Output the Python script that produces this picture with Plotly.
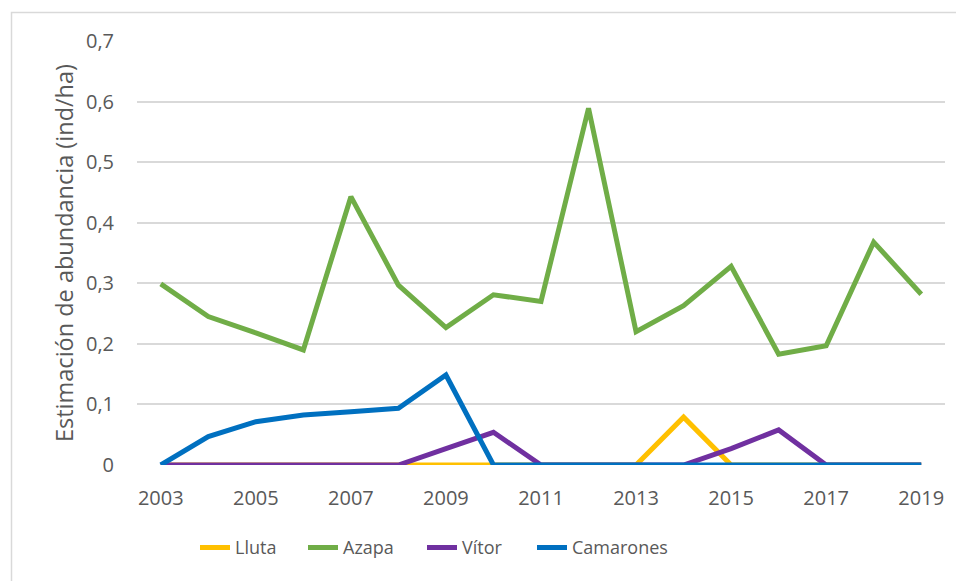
import plotly.graph_objects as go

years = list(range(2003, 2020))
lluta = [0, 0, 0, 0, 0, 0, 0, 0, 0, 0, 0, 0.079, 0, 0, 0, 0, 0]
azapa = [0.299, 0.245, 0.218, 0.19, 0.443, 0.297, 0.227, 0.281, 0.27, 0.589,
         0.22, 0.263, 0.328, 0.183, 0.197, 0.368, 0.282]
vitor = [0, 0, 0, 0, 0, 0, 0.027, 0.054, 0, 0, 0, 0, 0.027, 0.058, 0, 0, 0]
camarones = [0, 0.047, 0.0715, 0.0826, 0.088, 0.0936, 0.1486, 0, 0, 0, 0, 0, 0, 0, 0, 0, 0]

series_names = ["Lluta", "Azapa", "Vítor", "Camarones"]
series_vals = [lluta, azapa, vitor, camarones]
colors = ["#FFC000", "#70AD47", "#7030A0", "#0070C0"]

y_tickvals = [0, 0.1, 0.2, 0.3, 0.4, 0.5, 0.6, 0.7]
y_ticktext = ["0", "0,1", "0,2", "0,3", "0,4", "0,5", "0,6", "0,7"]
x_tickvals = list(range(2003, 2020, 2))
x_ticktext = [str(v) for v in x_tickvals]

FONT = "Open Sans"
TXT = "#595959"

# pixel left edges of each legend entry in the reference
legend_px = [200, 308, 427, 537]
legend_ids = ["legend", "legend2", "legend3", "legend4"]

fig = go.Figure()
for name, vals, c, lid in zip(series_names, series_vals, colors, legend_ids):
    fig.add_trace(go.Scatter(
        x=years, y=vals, name=name, mode="lines",
        line=dict(color=c, width=5), legend=lid,
    ))

legend_layout = {}
for lid, px in zip(legend_ids, legend_px):
    legend_layout[lid] = dict(
        orientation="h", x=(px - 5 - 137) / 808, xanchor="left",
        y=-0.195, yanchor="middle",
        font=dict(family=FONT, size=18, color=TXT),
        bgcolor="rgba(0,0,0,0)",
    )

fig.update_layout(
    width=956, height=581,
    margin=dict(l=137, r=11, t=41, b=116),
    paper_bgcolor="white", plot_bgcolor="white",
    font=dict(family=FONT, size=20, color=TXT),
    showlegend=True,
    xaxis=dict(
        range=[2002.5, 2019.5], tickvals=x_tickvals, ticktext=x_ticktext,
        showgrid=False, zeroline=False, showline=False, ticks="",
        ticklabelstandoff=19,
        tickfont=dict(family=FONT, size=20, color=TXT),
    ),
    yaxis=dict(
        range=[0, 0.7], tickvals=y_tickvals, ticktext=y_ticktext,
        showgrid=True, gridcolor="#D9D9D9", gridwidth=1.5,
        zeroline=False, showline=False, ticks="",
        ticklabelstandoff=22,
        tickfont=dict(family=FONT, size=20, color=TXT),
        title=dict(text="Estimación de abundancia (ind/ha)", standoff=5,
                   font=dict(family=FONT, size=23.5, color=TXT)),
    ),
    shapes=[dict(
        type="rect", xref="paper", yref="paper",
        x0=(11.5 - 137) / 808, x1=(965 - 137) / 808,
        y0=(465 - 595) / 424, y1=(465 - 12.5) / 424,
        line=dict(color="#D9D9D9", width=1.5), fillcolor="rgba(0,0,0,0)",
        layer="below",
    )],
    **legend_layout,
)

fig.write_html("out.html", config={"displayModeBar": False},
               post_script="document.body.style.margin='0';")
